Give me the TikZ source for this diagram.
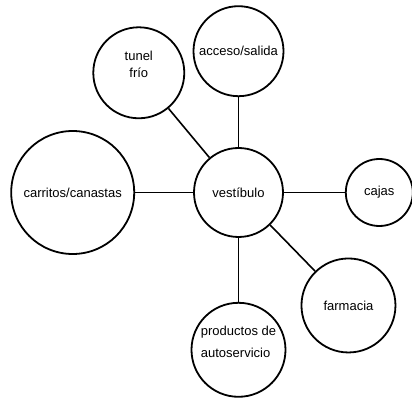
\documentclass[tikz,border=0pt]{standalone}
\usepackage{fontspec}
\setmainfont{Liberation Sans}
\usetikzlibrary{positioning}
\tikzset{zone/.style={circle,draw=black,line width=1.8pt,inner sep=1pt,align=center,font=\fontsize{13}{17}\selectfont}}
\tikzset{link/.style={-,line width=1.6pt}}

\begin{document}
\begin{tikzpicture}
\useasboundingbox (-238.5pt,192.5pt) rectangle (173.5pt,-208.5pt);
\begin{scope}[node distance=50pt]
	\node (vest) [zone, minimum size=89pt] at (0,0) {vestíbulo} ;
	\node (acceso) [zone, minimum size=90pt, above =of vest] {acceso/salida} edge [link] (vest) ;
	\node (tunel) [zone, minimum size=91pt, text depth=16pt, above left =54.8pt and 34.8pt of vest] {tunel\\frío} edge [link] (vest) ;
	\node (carritos) [zone, minimum size=123pt, left =58pt of vest] {carritos/canastas} edge [link] (vest) ;
	\node (cajas) [zone, minimum size=67pt, right =61pt of vest] {cajas} edge [link] (vest) ;
	\node (farmacia) [zone, minimum size=94pt, below right =47pt and 44pt of vest] {farmacia} edge [link] (vest) ;
	\node (productos) [zone, minimum size=94pt, align=left, text depth=16pt, below =64pt of vest] {productos de\\[5pt]autoservicio} edge [link] (vest) ;
\end{scope}
\end{tikzpicture}
\end{document}
